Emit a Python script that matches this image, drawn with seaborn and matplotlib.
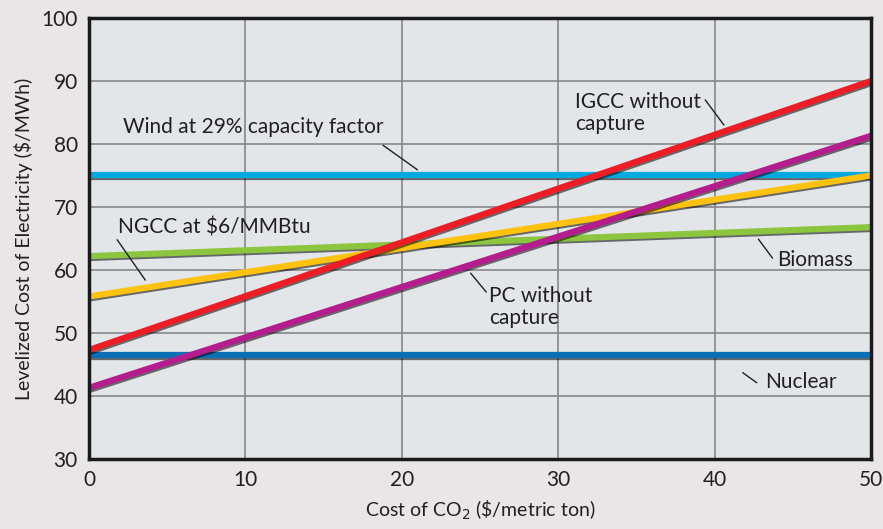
import matplotlib
matplotlib.use('Agg')
import matplotlib.pyplot as plt
import matplotlib.patheffects as pe
import seaborn as sns

# Cost of CO2 ($/metric ton) at the two ends of each line
co2_cost = [0, 50]

# Levelized cost of electricity ($/MWh)
wind = [75.0, 75.0]
nuclear = [46.5, 46.5]
biomass = [62.2, 66.8]
ngcc = [55.8, 75.0]
igcc = [47.3, 90.0]
pc = [41.3, 81.3]

series = [
    ('Wind at 29% capacity factor', wind, '#00a9e0'),
    ('Nuclear', nuclear, '#0b6fb6'),
    ('Biomass', biomass, '#8cc63f'),
    ('NGCC at $6/MMBtu', ngcc, '#ffc20e'),
    ('IGCC without capture', igcc, '#ee1c25'),
    ('PC without capture', pc, '#b51c8d'),
]

sns.set_style('white')
plt.rcParams['font.family'] = ['Lato', 'DejaVu Sans']

fig = plt.figure(figsize=(8.83, 5.29), dpi=100, facecolor='#e8e6e6')
ax = fig.add_axes([0.1008, 0.1323, 0.8856, 0.8337])
ax.set_facecolor('#e3e6e9')

shadow = [pe.SimpleLineShadow(offset=(0.8, -1.3), shadow_color='black', alpha=0.55, rho=0.3),
          pe.Normal()]
for name, vals, color in series:
    sns.lineplot(x=co2_cost, y=vals, color=color, linewidth=4.5, ax=ax,
                 path_effects=shadow, solid_capstyle='butt')

ax.set_xlim(0, 50)
ax.set_ylim(30, 100)
ax.set_xticks(range(0, 51, 10))
ax.set_yticks(range(30, 101, 10))
ax.grid(True, color='#85878a', linewidth=1.2)
ax.set_axisbelow(True)
for s in ax.spines.values():
    s.set_color('#1a1a1a')
    s.set_linewidth(2.5)
ax.tick_params(axis='both', length=0, labelsize=15, colors='#231f20', pad=8)

ax.set_xlabel('Cost of CO$_2$ (\\$/metric ton)', fontsize=14, color='#231f20', labelpad=6)
ax.set_ylabel('Levelized Cost of Electricity ($/MWh)', fontsize=14, color='#231f20', labelpad=6)

# labels with short leader lines
labels = [
    ('Wind at 29% capacity factor', 2.2, 82.7, (18.8, 79.8), (21.0, 75.9)),
    ('IGCC without\ncapture', 31.1, 84.9, (39.4, 87.0), (40.6, 83.0)),
    ('NGCC at $6/MMBtu', 1.85, 66.7, (1.8, 64.8), (3.6, 58.4)),
    ('Biomass', 44.0, 61.6, (42.8, 64.9), (43.7, 61.9)),
    ('PC without\ncapture', 25.6, 54.1, (24.4, 59.5), (25.4, 56.5)),
    ('Nuclear', 43.2, 42.2, (41.8, 43.7), (42.7, 42.1)),
]
for text, tx, ty, p0, p1 in labels:
    ax.text(tx, ty, text, fontsize=15, color='#231f20', va='center', ha='left',
            linespacing=1.1)
    ax.plot([p0[0], p1[0]], [p0[1], p1[1]], color='#231f20', linewidth=1)

plt.savefig('out.png', dpi=100, facecolor=fig.get_facecolor())
